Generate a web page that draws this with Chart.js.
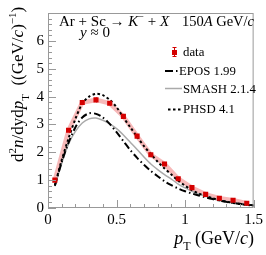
<!DOCTYPE html>
<html>
<head>
<meta charset="utf-8">
<script src="https://cdn.jsdelivr.net/npm/chart.js@4.4.1/dist/chart.umd.min.js"></script>
<style>
html, body { margin: 0; padding: 0; background: #fff; }
</style>
</head>
<body>
<canvas id="spectrum" width="266" height="255"></canvas>
<script>
// measured kaon spectrum (K-), Ar+Sc 150A GeV/c
const ptData = [0.05, 0.15, 0.25, 0.35, 0.45, 0.55, 0.65, 0.75, 0.85, 0.95, 1.05, 1.15, 1.25, 1.35, 1.45];
const yData = [1.0, 2.79, 3.79, 3.88, 3.76, 3.29, 2.58, 1.91, 1.58, 1.05, 0.73, 0.49, 0.35, 0.28, 0.17];
const yErr = [0.06, 0.08, 0.09, 0.09, 0.09, 0.08, 0.07, 0.06, 0.06, 0.05, 0.04, 0.03, 0.03, 0.03, 0.02];

// model curves
const ptModel = [0.05, 0.1, 0.15, 0.2, 0.25, 0.3, 0.35, 0.4, 0.45, 0.5, 0.55, 0.6, 0.65, 0.7, 0.75,
  0.8, 0.85, 0.9, 0.95, 1.0, 1.05, 1.1, 1.15, 1.2, 1.25, 1.3, 1.35, 1.4, 1.45, 1.5];
const yEpos = [0.8, 1.65, 2.35, 2.9, 3.25, 3.4, 3.38, 3.25, 3.02, 2.72, 2.4, 2.08, 1.8, 1.55, 1.33,
  1.14, 0.96, 0.82, 0.7, 0.6, 0.52, 0.45, 0.38, 0.32, 0.27, 0.22, 0.18, 0.15, 0.12, 0.1];
const ySmash = [0.78, 1.6, 2.3, 2.75, 3.05, 3.2, 3.23, 3.15, 3.02, 2.85, 2.62, 2.36, 2.1, 1.83, 1.58,
  1.38, 1.2, 1.04, 0.86, 0.72, 0.6, 0.5, 0.42, 0.35, 0.29, 0.24, 0.19, 0.15, 0.12, 0.09];
const yPhsd = [0.82, 1.72, 2.5, 3.2, 3.75, 4.0, 4.1, 4.05, 3.88, 3.62, 3.25, 2.9, 2.56, 2.22, 1.94,
  1.66, 1.42, 1.2, 0.98, 0.8, 0.64, 0.52, 0.43, 0.35, 0.28, 0.23, 0.18, 0.14, 0.11, 0.08];

const xTicks = [0, 0.5, 1, 1.5];
const yTickLabels = ['0', '1', '2', '3', '4', '5', '6'];

const serif = '"Liberation Serif", "DejaVu Serif", serif';
const red = '#d40000';
const frameColor = '#999';

const pts = (xs, ys) => xs.map((x, i) => ({ x: x, y: ys[i] }));

function richWidth(ctx, parts) {
  let w = 0;
  for (const p of parts) {
    ctx.font = (p.i ? 'italic ' : '') + (p.s || 15) + 'px ' + serif;
    w += ctx.measureText(p.t).width;
  }
  return w;
}

function rich(ctx, parts, x, y) {
  let cx = x;
  for (const p of parts) {
    ctx.font = (p.i ? 'italic ' : '') + (p.s || 15) + 'px ' + serif;
    ctx.fillText(p.t, cx, y + (p.dy || 0));
    cx += ctx.measureText(p.t).width;
  }
  return cx;
}

const decorations = {
  id: 'decorations',
  afterDatasetsDraw(chart) {
    const ctx = chart.ctx;
    const xs = chart.scales.x, ys = chart.scales.y;
    // error bars
    ctx.save();
    ctx.strokeStyle = red;
    ctx.lineWidth = 1;
    ptData.forEach((x, i) => {
      const px = Math.round(xs.getPixelForValue(x)) + 0.5;
      ctx.beginPath();
      ctx.moveTo(px, ys.getPixelForValue(yData[i] - yErr[i]));
      ctx.lineTo(px, ys.getPixelForValue(yData[i] + yErr[i]));
      ctx.stroke();
    });
    ctx.restore();
  },
  afterDraw(chart) {
    const ctx = chart.ctx;
    const a = chart.chartArea;
    const xs = chart.scales.x, ys = chart.scales.y;
    ctx.save();
    // frame + inner ticks
    ctx.strokeStyle = frameColor;
    ctx.lineWidth = 1;
    ctx.strokeRect(a.left + 0.5, a.top + 0.5, a.right - a.left - 1, a.bottom - a.top - 1);
    ctx.beginPath();
    for (let k = 0; k <= 15; k++) {
      const px = Math.round(xs.getPixelForValue(k / 10)) + 0.5;
      const len = k % 5 === 0 ? 8 : 4;
      ctx.moveTo(px, a.bottom);
      ctx.lineTo(px, a.bottom - len);
    }
    for (let k = 0; k <= 35; k++) {
      const py = Math.round(ys.getPixelForValue(k / 5)) + 0.5;
      const len = k % 5 === 0 ? 8 : 4;
      ctx.moveTo(a.left, py);
      ctx.lineTo(a.left + len, py);
    }
    ctx.stroke();

    ctx.fillStyle = '#000';
    ctx.textBaseline = 'alphabetic';
    ctx.textAlign = 'left';

    // reaction label
    rich(ctx, [{ t: 'Ar + Sc \u2192 ' }, { t: 'K', i: 1 },
      { t: '\u2212', s: 10, dy: -6 }, { t: ' + ' }, { t: 'X', i: 1 }], 59, 26);
    const right = [{ t: '150', s: 14.5 }, { t: 'A', i: 1, s: 14.5 }, { t: ' GeV/', s: 14.5 }, { t: 'c', i: 1, s: 14.5 }];
    rich(ctx, right, 254 - richWidth(ctx, right), 26);
    rich(ctx, [{ t: 'y', i: 1 }, { t: ' \u2248 0' }], 80, 37);

    // legend
    const lf = 12.8;
    ctx.fillStyle = red;
    ctx.fillRect(172, 50, 5, 5);
    ctx.strokeStyle = red;
    ctx.beginPath();
    ctx.moveTo(174.5, 47); ctx.lineTo(174.5, 57);
    ctx.moveTo(172.5, 47.5); ctx.lineTo(176.5, 47.5);
    ctx.moveTo(172.5, 56.5); ctx.lineTo(176.5, 56.5);
    ctx.stroke();
    ctx.strokeStyle = '#000';
    ctx.lineWidth = 2;
    ctx.setLineDash([8, 3, 1.5, 3]);
    ctx.beginPath(); ctx.moveTo(165, 71); ctx.lineTo(178, 71); ctx.stroke();
    ctx.setLineDash([]);
    ctx.strokeStyle = '#aaa';
    ctx.lineWidth = 1.5;
    ctx.beginPath(); ctx.moveTo(165, 88.5); ctx.lineTo(182, 88.5); ctx.stroke();
    ctx.strokeStyle = '#000';
    ctx.lineWidth = 2;
    ctx.setLineDash([2.5, 2.5]);
    ctx.beginPath(); ctx.moveTo(168, 109.5); ctx.lineTo(182, 109.5); ctx.stroke();
    ctx.setLineDash([]);
    ctx.fillStyle = '#000';
    rich(ctx, [{ t: 'data', s: lf }], 183, 56);
    rich(ctx, [{ t: 'EPOS 1.99', s: lf }], 179, 75);
    rich(ctx, [{ t: 'SMASH 2.1.4', s: lf }], 183, 93);
    rich(ctx, [{ t: 'PHSD 4.1', s: lf }], 183, 113);

    // x axis title
    const xt = [{ t: 'p', i: 1, s: 18 }, { t: 'T', s: 12, dy: 6 }, { t: ' (GeV/', s: 18 },
      { t: 'c', i: 1, s: 18 }, { t: ')', s: 18 }];
    rich(ctx, xt, 254 - richWidth(ctx, xt), 244);

    // y axis title
    ctx.translate(23, 162);
    ctx.rotate(-Math.PI / 2);
    rich(ctx, [{ t: 'd', s: 17 }, { t: '2', s: 11, dy: -7 }, { t: 'n', i: 1, s: 17 },
      { t: '/dyd', s: 17 }, { t: 'p', i: 1, s: 17 }, { t: 'T', s: 11, dy: 6 },
      { t: '  ((GeV/', s: 17 }, { t: 'c', i: 1, s: 17 }, { t: ')', s: 17 },
      { t: '\u22121', s: 11, dy: -7 }, { t: ')', s: 17 }], 0, 0);
    ctx.restore();
  }
};

new Chart(document.getElementById('spectrum'), {
  type: 'line',
  data: {
    datasets: [
      {
        label: 'data',
        data: pts(ptData, yData),
        showLine: false,
        pointStyle: 'rect',
        pointRadius: 3.6,
        pointBackgroundColor: red,
        pointBorderWidth: 0
      },
      {
        label: 'PHSD 4.1',
        data: pts(ptModel, yPhsd),
        borderColor: '#000',
        borderWidth: 2,
        borderDash: [2.5, 2.5],
        pointRadius: 0,
        tension: 0.3
      },
      {
        label: 'EPOS 1.99',
        data: pts(ptModel, yEpos),
        borderColor: '#000',
        borderWidth: 2,
        borderDash: [7, 3, 1.5, 3],
        pointRadius: 0,
        tension: 0.3
      },
      {
        label: 'SMASH 2.1.4',
        data: pts(ptModel, ySmash),
        borderColor: '#aaa',
        borderWidth: 1.5,
        pointRadius: 0,
        tension: 0.3
      },
      {
        label: 'band',
        data: pts(ptData, yData),
        borderColor: 'rgba(240, 128, 128, 0.55)',
        borderWidth: 4.5,
        pointRadius: 0,
        tension: 0
      }
    ]
  },
  options: {
    responsive: false,
    animation: false,
    devicePixelRatio: 1,
    layout: { padding: { top: 10, right: 10, left: 0, bottom: 0 } },
    plugins: { legend: { display: false }, tooltip: { enabled: false } },
    scales: {
      x: {
        type: 'linear',
        min: 0,
        max: 1.5,
        afterFit: (s) => { s.height = 47; },
        afterBuildTicks: (s) => { s.ticks = xTicks.map((v) => ({ value: v })); },
        grid: { display: false, drawTicks: false },
        border: { display: false },
        ticks: {
          padding: 3,
          color: '#000',
          font: { family: serif, size: 15 },
          callback: (v) => String(v)
        }
      },
      y: {
        type: 'linear',
        min: 0,
        max: 7,
        afterFit: (s) => { s.width = 48; },
        grid: { display: false, drawTicks: false },
        border: { display: false },
        ticks: {
          stepSize: 1,
          padding: 4,
          color: '#000',
          font: { family: serif, size: 15 },
          callback: (v) => yTickLabels[v] || ''
        }
      }
    }
  },
  plugins: [decorations]
});
</script>
</body>
</html>
